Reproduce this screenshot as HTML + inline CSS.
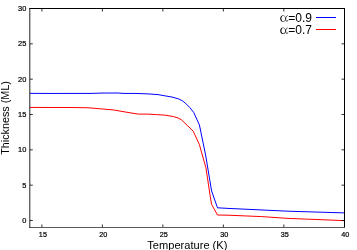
<!DOCTYPE html>
<html><head><meta charset="utf-8">
<style>
html,body{margin:0;padding:0;background:#fff;}
body{width:357px;height:250px;overflow:hidden;}
svg{display:block;will-change:transform;transform:translateZ(0);}
text{font-family:"Liberation Sans",sans-serif;fill:#000;}
.tk{font-size:7.8px;stroke:#000;stroke-width:0.22px;}
.ti{font-size:11.3px;}
.lg{font-size:12px;}
</style></head><body>
<svg width="357" height="250" viewBox="0 0 357 250">
<rect width="357" height="250" fill="#fff"/>
<polyline fill="none" stroke="#0000ff" stroke-width="1" stroke-linejoin="round" points="30,93.35 50,93.45 92,93.4 102,93.05 118,93.0 123,93.4 135,93.45 148,93.9 158,94.6 164.8,95.8 172,97.05 178.7,98.95 182.5,100.9 185.45,103.2 189.9,107.7 193.7,112.4 199.4,124.9 205.6,155 211.6,191 217.5,207.8 228,208.4 288,211.2 344.3,212.9"/>
<polyline fill="none" stroke="#ff0000" stroke-width="1" stroke-linejoin="round" points="30,107.45 70,107.5 88,107.75 113.2,109.9 130,112.8 138.4,114.1 148,114.1 156.4,114.6 164.8,115.1 173.2,116.5 178,118 181.4,119.8 187.2,125.3 193.2,131.2 199.3,144.3 205.95,167.9 210.3,196.8 211.6,204.4 217.5,215 228,215.2 261.6,216.6 288,218.4 344.3,220.6"/>
<g stroke="#000" stroke-width="0.9" fill="none" opacity="0.9">
<path d="M41.90 227.50v-3M102.38 227.50v-3M162.86 227.50v-3M223.34 227.50v-3M283.82 227.50v-3"/>
<path d="M41.90 8.50v3M102.38 8.50v3M162.86 8.50v3M223.34 8.50v3M283.82 8.50v3"/>
<path d="M29.80 220.50h3M29.80 185.17h3M29.80 149.83h3M29.80 114.50h3M29.80 79.17h3M29.80 43.83h3"/>
<path d="M344.50 220.50h-3M344.50 185.17h-3M344.50 149.83h-3M344.50 114.50h-3M344.50 79.17h-3M344.50 43.83h-3"/>
</g>
<g fill="none" stroke-width="1">
<path d="M29.3 8.5H345" stroke="#000"/>
<path d="M344.5 8V228" stroke="#000"/>
<path d="M29.3 227.5H345" stroke="#5a5a5a"/>
<path d="M29.8 8V228" stroke="#222"/>
</g>
<g class="tk" text-anchor="end" style="font-size:8px">
<text transform="translate(26.3 11.10) scale(0.93 1)">30</text>
<text transform="translate(26.3 46.43) scale(0.93 1)">25</text>
<text transform="translate(26.3 81.77) scale(0.93 1)">20</text>
<text transform="translate(26.3 117.10) scale(0.93 1)">15</text>
<text transform="translate(26.3 152.43) scale(0.93 1)">10</text>
<text transform="translate(26.3 187.77) scale(0.93 1)">5</text>
<text transform="translate(26.3 223.10) scale(0.93 1)">0</text>
</g>
<g class="tk" text-anchor="middle">
<text transform="translate(42.90 236.9) scale(0.93 1)">15</text>
<text transform="translate(103.38 236.9) scale(0.93 1)">20</text>
<text transform="translate(163.86 236.9) scale(0.93 1)">25</text>
<text transform="translate(224.34 236.9) scale(0.93 1)">30</text>
<text transform="translate(284.82 236.9) scale(0.93 1)">35</text>
<text transform="translate(345.30 236.9) scale(0.93 1)">40</text>
</g>
<text class="ti" transform="translate(187.35 248.7) scale(0.982 1)" text-anchor="middle">Temperature (K)</text>
<text class="ti" transform="translate(9.4 117.95) rotate(-90) scale(0.956 1)" text-anchor="middle">Thickness (ML)</text>
<g transform="translate(0 0)"><path fill="#000" fill-rule="evenodd" d="M283.0 15.25a2.8 3.3 0 1 0 0.001 0zM283.3 15.85a1.95 2.7 0 1 1 -0.001 0z"/><path fill="none" stroke="#000" stroke-width="0.7" stroke-linecap="round" d="M287.3 15.6C286.5 16.4 285.6 17.5 285.6 18.8C285.6 20.3 286.2 21.4 286.9 21.4C287.3 21.4 287.6 21.1 287.7 20.6"/></g>
<g transform="translate(0 12.2)"><path fill="#000" fill-rule="evenodd" d="M283.0 15.25a2.8 3.3 0 1 0 0.001 0zM283.3 15.85a1.95 2.7 0 1 1 -0.001 0z"/><path fill="none" stroke="#000" stroke-width="0.7" stroke-linecap="round" d="M287.3 15.6C286.5 16.4 285.6 17.5 285.6 18.8C285.6 20.3 286.2 21.4 286.9 21.4C287.3 21.4 287.6 21.1 287.7 20.6"/></g>
<text class="lg" x="312" y="21.6" text-anchor="end">=0.9</text>
<text class="lg" x="312" y="33.8" text-anchor="end">=0.7</text>
<path d="M316 17.5h20" stroke="#0000ff" stroke-width="1" fill="none"/>
<path d="M316 29.5h20" stroke="#ff0000" stroke-width="1" fill="none"/>
</svg>
</body></html>
